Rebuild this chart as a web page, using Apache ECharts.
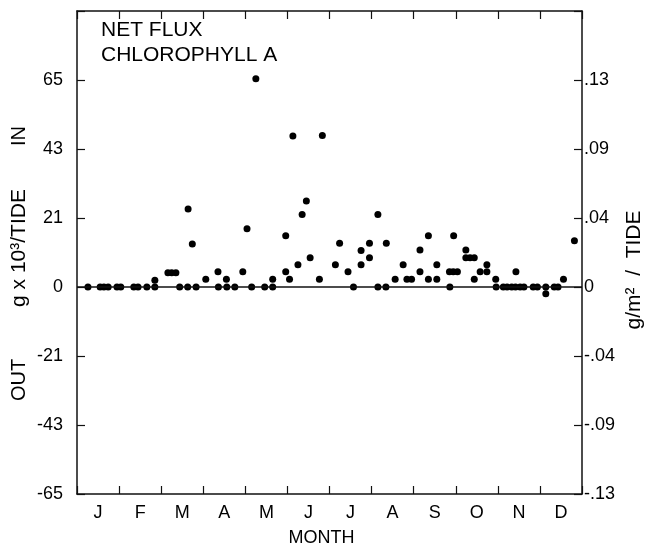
<!DOCTYPE html>
<html><head><meta charset="utf-8">
<script src="https://cdn.jsdelivr.net/npm/echarts@6/dist/echarts.min.js"></script>
<style>html,body{margin:0;padding:0;background:#fff}#c{width:647px;height:544px}</style>
</head><body><div id="c"></div>
<script>
// Month labels (Jan..Dec)
const months = ['J','F','M','A','M','J','J','A','S','O','N','D'];
// Tick labels: left axis g x 10^3 / tide, right axis g/m^2 / tide
const leftTickLabels = ['-65','-43','-21','0','21','43','65'];
const rightTickLabels = ['-.13','-.09','-.04','0','.04','.09','.13'];
// Sampling time, in months from 1 January
const sampleMonth = [
  0.26,0.55,0.64,0.74,0.95,1.04,1.35,1.45,1.66,1.85,
  1.85,2.16,2.25,2.35,2.44,2.63,2.64,2.74,2.83,3.06,
  3.35,3.36,3.55,3.56,3.75,3.94,4.04,4.15,4.25,4.46,
  4.65,4.65,4.96,4.96,5.05,5.13,5.25,5.35,5.45,5.54,
  5.76,5.83,6.14,6.24,6.44,6.57,6.75,6.75,6.95,6.95,
  7.15,7.15,7.34,7.35,7.56,7.75,7.84,7.95,8.15,8.15,
  8.35,8.35,8.55,8.55,8.85,8.86,8.94,8.95,9.04,9.24,
  9.24,9.34,9.44,9.44,9.58,9.74,9.74,9.95,9.96,10.13,
  10.22,10.33,10.42,10.43,10.53,10.62,10.84,10.94,11.14,11.14,
  11.34,11.43,11.56,11.82
];
// Net flux of chlorophyll a, g x 10^3 per tide (positive = IN)
const netFlux = [
  0,0,0,0,0,0,0,0,0,0,
  2.1,4.5,4.5,4.5,0,0,24.5,13.5,0,2.4,
  4.8,0,2.4,0,0,4.8,18.3,0,65.4,0,
  0,2.4,16.1,4.8,2.4,47.4,7.0,22.8,27.0,9.2,
  2.4,47.6,7.0,13.7,4.8,0,11.5,7.0,13.7,9.2,
  22.8,0,0,13.7,2.4,7.0,2.4,2.4,11.6,4.8,
  16.1,2.4,7.0,2.4,4.8,0,4.8,16.1,4.8,11.6,
  9.2,9.2,9.2,2.4,4.8,7.0,4.8,2.4,0,0,
  0,0,0,4.8,0,0,0,0,0,-2.1,
  0,0,2.4,14.5
];

const FONT = 'Liberation Sans';
const step = 65 / 3;
const chart = echarts.init(document.getElementById('c'), null, {renderer: 'canvas'});
const pts = sampleMonth.map((m, i) => [m, netFlux[i]]);
const ink = '#111';
const line = {show: true, onZero: false, lineStyle: {color: ink, width: 1.5}};
const tick = {show: true, inside: true, length: 8, lineStyle: {color: ink, width: 1.2}};

chart.setOption({
  animation: false,
  backgroundColor: '#fff',
  grid: {left: 77, right: 65, top: 11, bottom: 50, show: false, containLabel: false, outerBoundsMode: 'none'},
  xAxis: [
    {
      type: 'value', min: 0, max: 12, interval: 1, position: 'bottom',
      axisLine: line, axisTick: tick, splitLine: {show: false},
      axisLabel: {
        show: true, margin: 10, color: '#000', fontSize: 18, fontFamily: FONT,
        customValues: months.map((_, i) => i + 0.5),
        formatter: v => months[Math.floor(v)] || ''
      },
      name: 'MONTH', nameLocation: 'middle', nameGap: 35,
      nameTextStyle: {color: '#000', fontSize: 18, fontFamily: FONT, padding: [0, 16, 0, 0]}
    },
    {
      type: 'value', min: 0, max: 12, interval: 1, position: 'top',
      axisLine: line, axisTick: tick,
      axisLabel: {show: false}, splitLine: {show: false}
    }
  ],
  yAxis: [
    {
      type: 'value', min: -65, max: 4 * step, interval: step, position: 'left',
      axisLine: line, axisTick: tick, splitLine: {show: false},
      axisLabel: {
        margin: 14, color: '#000', fontSize: 18, fontFamily: FONT,
        formatter: (v, i) => leftTickLabels[i] !== undefined ? leftTickLabels[i] : ''
      }
    },
    {
      type: 'value', min: -65, max: 4 * step, interval: step, position: 'right',
      axisLine: line, axisTick: tick, splitLine: {show: false},
      axisLabel: {
        margin: 2, color: '#000', fontSize: 18, fontFamily: FONT,
        formatter: (v, i) => rightTickLabels[i] !== undefined ? rightTickLabels[i] : ''
      }
    }
  ],
  series: [{
    type: 'scatter', xAxisIndex: 0, yAxisIndex: 0,
    symbol: 'circle', symbolSize: 7,
    itemStyle: {color: '#000', opacity: 1},
    data: pts,
    markLine: {
      silent: true, symbol: 'none', label: {show: false},
      lineStyle: {color: ink, width: 1.5, type: 'solid'},
      data: [{yAxis: 0}]
    }
  }],
  graphic: [
    {type: 'text', left: 101, top: 20, style: {text: 'NET FLUX', fontSize: 21, fontFamily: FONT, fill: '#000'}},
    {type: 'text', left: 101, top: 45, style: {text: 'CHLOROPHYLL A', fontSize: 21, fontFamily: FONT, fill: '#000'}},
    {type: 'text', x: 19, y: 136, rotation: Math.PI / 2, style: {text: 'IN', fontSize: 20, fontFamily: FONT, fill: '#000', align: 'center', verticalAlign: 'middle'}},
    {type: 'text', x: 19, y: 248, rotation: Math.PI / 2, style: {text: 'g x 10³/TIDE', fontSize: 21, fontFamily: FONT, fill: '#000', align: 'center', verticalAlign: 'middle'}},
    {type: 'text', x: 19, y: 380, rotation: Math.PI / 2, style: {text: 'OUT', fontSize: 20, fontFamily: FONT, fill: '#000', align: 'center', verticalAlign: 'middle'}},
    {type: 'text', x: 634, y: 270, rotation: Math.PI / 2, style: {text: 'g/m²  /  TIDE', fontSize: 21, fontFamily: FONT, fill: '#000', align: 'center', verticalAlign: 'middle'}}
  ]
});
</script>
</body></html>
